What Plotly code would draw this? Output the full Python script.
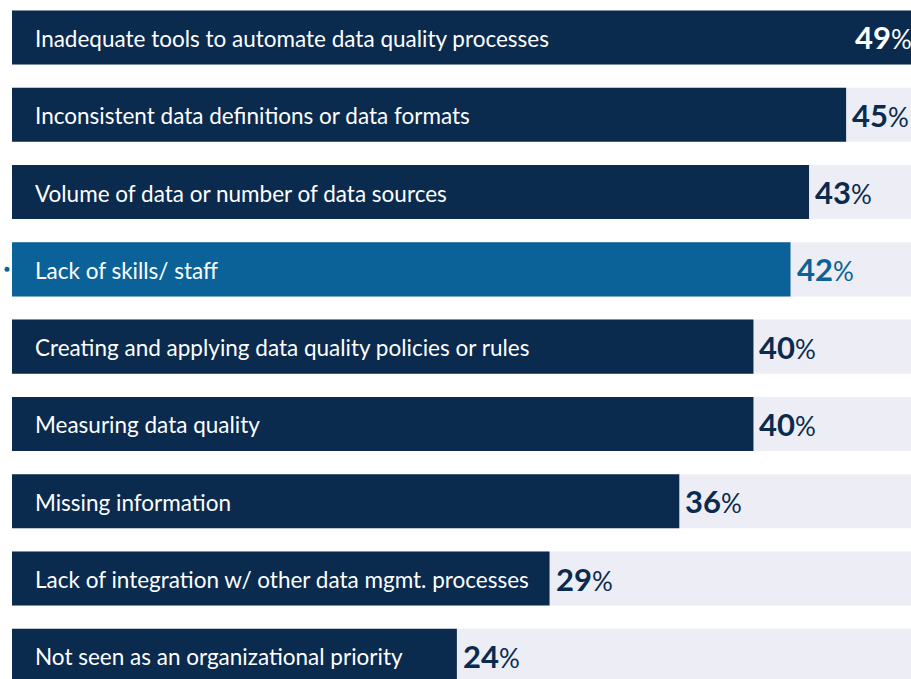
import plotly.graph_objects as go

# survey results, top to bottom
challenges = [
    "Inadequate tools to automate data quality processes",
    "Inconsistent data definitions or data formats",
    "Volume of data or number of data sources",
    "Lack of skills/ staff",
    "Creating and applying data quality policies or rules",
    "Measuring data quality",
    "Missing information",
    "Lack of integration w/ other data mgmt. processes",
    "Not seen as an organizational priority",
]
pct = [49, 45, 43, 42, 40, 40, 36, 29, 24]
highlight = "Lack of skills/ staff"

NAVY = "#0A2A4E"
BLUE = "#0B6298"
TRACK = "#ECEDF5"
FONT = "Lato"

pos = list(range(len(challenges)))
bar_colors = [BLUE if c == highlight else NAVY for c in challenges]

fig = go.Figure()

# light background track behind each bar
fig.add_trace(go.Bar(
    y=pos, x=[100] * len(pos), orientation="h",
    marker=dict(color=TRACK, line_width=0),
    width=0.70, hoverinfo="skip", showlegend=False,
))

fig.add_trace(go.Bar(
    y=pos, x=pct, orientation="h",
    marker=dict(color=bar_colors, line_width=0),
    width=0.70, showlegend=False,
))

# small bullet next to the highlighted row
fig.add_trace(go.Scatter(
    x=[-0.27], y=[challenges.index(highlight)], mode="markers",
    marker=dict(color=BLUE, size=5), showlegend=False, hoverinfo="skip",
))

annotations = []
for i, (name, v) in enumerate(zip(challenges, pct)):
    # category text inside the bar
    annotations.append(dict(
        x=0, y=i, xref="x", yref="y", text=name, showarrow=False,
        xanchor="left", xshift=21, yshift=-1,
        font=dict(family=FONT, size=22.5, color="white"),
    ))
    label = "<b>%d</b><span style='font-size:26px'>%%</span>" % v
    if v == max(pct):
        # biggest bar runs off the edge, label sits inside it
        annotations.append(dict(
            x=1, y=i, xref="paper", yref="y", text=label, showarrow=False,
            xanchor="right", xshift=3,
            font=dict(family=FONT, size=31, color="white"),
        ))
    else:
        annotations.append(dict(
            x=v, y=i, xref="x", yref="y", text=label, showarrow=False,
            xanchor="left", xshift=4,
            font=dict(family=FONT, size=31, color=bar_colors[i]),
        ))

fig.update_layout(
    width=911, height=679,
    margin=dict(l=0, r=0, t=0, b=0),
    barmode="overlay",
    plot_bgcolor="white", paper_bgcolor="white",
    annotations=annotations,
    xaxis=dict(range=[-0.648, 48.5], visible=False, fixedrange=True),
    yaxis=dict(range=[8.3, -0.485], visible=False, fixedrange=True),
)

# drop the page's default body margin so the figure sits at the top-left corner
fig.write_html("out.html", config={"displayModeBar": False},
               post_script="document.body.style.margin = '0';")
